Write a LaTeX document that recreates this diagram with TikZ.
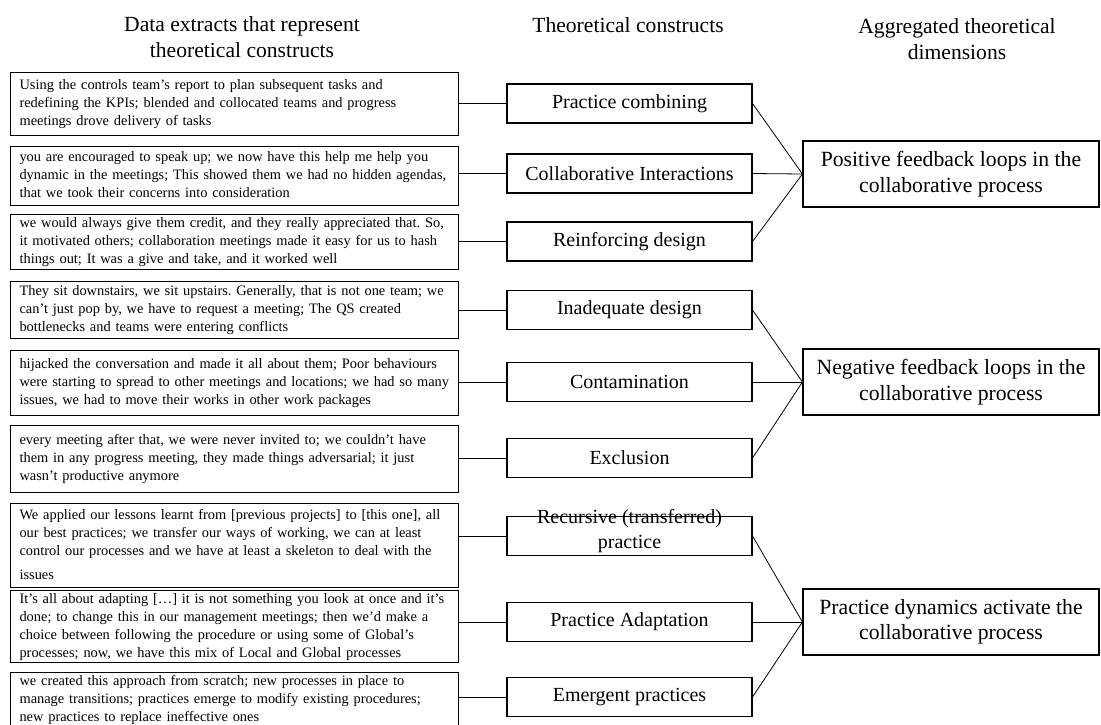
\documentclass[tikz,border=0pt]{standalone}
\usepackage{fontspec}
\setmainfont{Liberation Serif}
% a block of quoted lines, broken only where written
\newcommand\extractlines[1]{\begin{tabular}{@{}l@{}}#1\end{tabular}}
\frenchspacing
\begin{document}
\begin{tikzpicture}[x=1pt,y=-1pt,
  quote/.style={draw, line width=1.1pt, text width=430pt, align=left,
    inner xsep=9pt, inner ysep=0pt, anchor=north west,
    font=\fontsize{14.4}{18}\selectfont},
  construct/.style={draw, line width=1.1pt, minimum width=245pt,
    minimum height=39pt, inner sep=0pt, align=center,
    font=\fontsize{20}{25}\selectfont},
  dimension/.style={draw, line width=1.1pt, minimum width=296pt,
    minimum height=66pt, inner sep=0pt, align=center,
    font=\fontsize{21.7}{25.5}\selectfont},
  heading/.style={align=center, inner sep=0pt, font=\fontsize{21.6}{26}\selectfont},
  link/.style={line width=0.8pt}]
\useasboundingbox (0,0) rectangle (1101,724);

% column headings
\node[heading] (h1) at (242,37) {Data extracts that represent\\theoretical constructs};
\node[heading] (h2) at (628,25) {Theoretical constructs};
\node[heading] (h3) at (957,39) {Aggregated theoretical\\dimensions};

% data extracts
\node[quote, minimum height=63pt] (q1) at (10,72)
  {\extractlines{Using the controls team’s report to plan subsequent tasks and\\redefining the KPIs; blended and collocated teams and progress\\meetings drove delivery of tasks}};
\node[quote, minimum height=59pt] (q2) at (10,146)
  {\extractlines{you are encouraged to speak up; we now have this help me help you\\dynamic in the meetings; This showed them we had no hidden agendas,\\that we took their concerns into consideration}};
\node[quote, minimum height=55pt] (q3) at (10,214)
  {\extractlines{we would always give them credit, and they really appreciated that. So,\\it motivated others; collaboration meetings made it easy for us to hash\\things out; It was a give and take, and it worked well}};
\node[quote, minimum height=57pt] (q4) at (10,281)
  {\extractlines{They sit downstairs, we sit upstairs. Generally, that is not one team; we\\can’t just pop by, we have to request a meeting; The QS created\\bottlenecks and teams were entering conflicts}};
\node[quote, minimum height=65pt] (q5) at (10,350)
  {\extractlines{hijacked the conversation and made it all about them; Poor behaviours\\were starting to spread to other meetings and locations; we had so many\\issues, we had to move their works in other work packages}};
\node[quote, minimum height=67pt] (q6) at (10,425)
  {\extractlines{every meeting after that, we were never invited to; we couldn’t have\\them in any progress meeting, they made things adversarial; it just\\wasn’t productive anymore}};
\node[quote, minimum height=84pt] (q7) at (10,503)
  {\extractlines{We applied our lessons learnt from [previous projects] to [this one], all\\our best practices; we transfer our ways of working, we can at least\\control our processes and we have at least a skeleton to deal with the\\[6pt]issues}};
\node[quote, minimum height=67pt] (q8) at (10,590)
  {\extractlines{It’s all about adapting […] it is not something you look at once and it’s\\done; to change this in our management meetings; then we’d make a\\choice between following the procedure or using some of Global’s\\processes; now, we have this mix of Local and Global processes}};
\node[quote, minimum height=50pt] (q9) at (10,672)
  {\extractlines{we created this approach from scratch; new processes in place to\\manage transitions; practices emerge to modify existing procedures;\\new practices to replace ineffective ones}};

% theoretical constructs
\node[construct] (m1) at (629.5,103.5) {Practice combining};
\node[construct] (m2) at (629.5,173.5) {Collaborative Interactions};
\node[construct] (m3) at (629.5,241.5) {Reinforcing design};
\node[construct] (m4) at (629.5,310) {Inadequate design};
\node[construct] (m5) at (629.5,382) {Contamination};
\node[construct] (m6) at (629.5,458) {Exclusion};
\node[construct] (m7) at (629.5,536)
  {\smash{\begin{tabular}{@{}c@{}}Recursive (transferred)\\practice\end{tabular}}};
\node[construct] (m8) at (629.5,622) {Practice Adaptation};
\node[construct] (m9) at (629.5,697) {Emergent practices};

% aggregated dimensions
\node[dimension] (r1) at (951,174) {Positive feedback loops in the\\collaborative process};
\node[dimension] (r2) at (951,382) {Negative feedback loops in the\\collaborative process};
\node[dimension] (r3) at (951,622) {Practice dynamics activate the\\collaborative process};

% extracts to constructs
\foreach \i in {1,...,9}
  \draw[link] (q\i.east |- m\i.west) -- (m\i.west);

% constructs to dimensions
\foreach \i in {1,2,3}
  \draw[link] (m\i.east) -- (r1.west);
\foreach \i in {4,5,6}
  \draw[link] (m\i.east) -- (r2.west);
\foreach \i in {7,8,9}
  \draw[link] (m\i.east) -- (r3.west);
\end{tikzpicture}
\end{document}
